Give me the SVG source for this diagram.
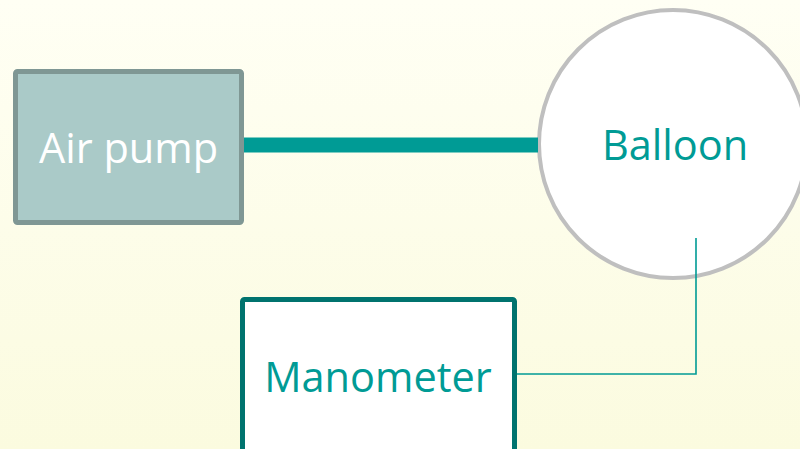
<svg xmlns="http://www.w3.org/2000/svg" width="800" height="449" viewBox="0 0 800 449">
<style>
.lbl{font-family:"Open Sans","Liberation Sans",sans-serif;font-size:41.5px;text-anchor:middle}
</style>
<defs>
<linearGradient id="bg" x1="0" y1="0" x2="0" y2="1">
<stop offset="0" stop-color="#fffff4"/>
<stop offset="1" stop-color="#fbfbdf"/>
</linearGradient>
</defs>
<rect width="800" height="449" fill="url(#bg)"/>
<g id="airpump">
<rect x="15.5" y="71.5" width="226" height="151" rx="2" fill="#aacac8" stroke="#7f9794" stroke-width="5"/>
<text class="lbl" x="128.5" y="163" fill="#ffffff">Air pump</text>
</g>
<g id="balloon">
<circle cx="673" cy="144" r="134" fill="#ffffff" stroke="#bfbfbf" stroke-width="4"/>
<text class="lbl" x="675" y="160" fill="#009b95">Balloon</text>
</g>
<g id="manometer">
<rect x="242.5" y="299.5" width="272" height="160" rx="2" fill="#ffffff" stroke="#00736e" stroke-width="5"/>
<text class="lbl" x="378" y="392" fill="#009b95">Manometer</text>
</g>
<g id="connectors">
<line x1="244" y1="145" x2="538" y2="145" stroke="#009b95" stroke-width="15"/>
<polyline points="696,238 696,374 517,374" fill="none" stroke="#009b95" stroke-width="1.6"/>
</g>
</svg>
